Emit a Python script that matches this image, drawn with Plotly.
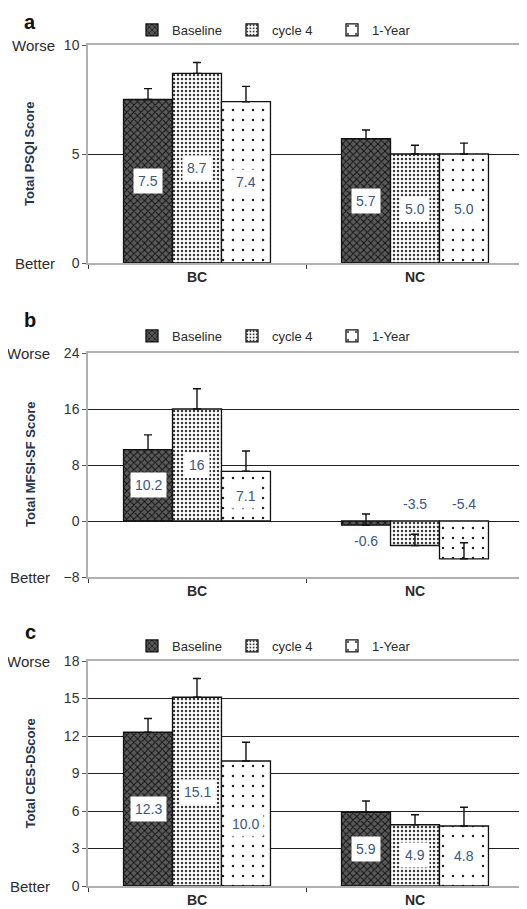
import plotly.graph_objects as go

# ---------------- data ----------------
categories = ["BC", "NC"]
series_names = ["Baseline", "cycle 4", "1-Year"]

psqi_baseline = [7.5, 5.7]
psqi_cycle4 = [8.7, 5.0]
psqi_1year = [7.4, 5.0]
psqi_err_baseline = [0.5, 0.4]
psqi_err_cycle4 = [0.5, 0.4]
psqi_err_1year = [0.7, 0.5]

mfsi_baseline = [10.2, -0.6]
mfsi_cycle4 = [16.0, -3.5]
mfsi_1year = [7.1, -5.4]
mfsi_err_baseline = [2.1, 1.6]
mfsi_err_cycle4 = [2.9, 1.6]
mfsi_err_1year = [2.9, 2.3]

cesd_baseline = [12.3, 5.9]
cesd_cycle4 = [15.1, 4.9]
cesd_1year = [10.0, 4.8]
cesd_err_baseline = [1.1, 0.9]
cesd_err_cycle4 = [1.5, 0.8]
cesd_err_1year = [1.5, 1.5]

psqi_ticks = [0, 5, 10]
mfsi_ticks = [-8, 0, 8, 16, 24]
cesd_ticks = [0, 3, 6, 9, 12, 15, 18]

panel_letters = ["a", "b", "c"]
panel_titles = ["Total PSQI Score", "Total MFSI-SF Score", "Total CES-DScore"]

# ---------------- layout constants ----------------
PAGE_W, PAGE_H = 527, 909
OFF = 8  # default page body margin
W, H = PAGE_W - OFF, PAGE_H - OFF


def px_x(px):
    return (px - OFF) / W


def px_y(py):
    return 1 - (py - OFF) / H


BARGAP = 0.326
panels = [
    dict(values=[psqi_baseline, psqi_cycle4, psqi_1year],
         errs=[psqi_err_baseline, psqi_err_cycle4, psqi_err_1year],
         ticks=psqi_ticks, fmt="{:.1f}", top=45, bottom=263, legend_y=30, letter_y=22, lab_right=57),
    dict(values=[mfsi_baseline, mfsi_cycle4, mfsi_1year],
         errs=[mfsi_err_baseline, mfsi_err_cycle4, mfsi_err_1year],
         ticks=mfsi_ticks, fmt="{:g}", top=353, bottom=577, legend_y=336, letter_y=320, lab_right=52),
    dict(values=[cesd_baseline, cesd_cycle4, cesd_1year],
         errs=[cesd_err_baseline, cesd_err_cycle4, cesd_err_1year],
         ticks=cesd_ticks, fmt="{:.1f}", top=661, bottom=886, legend_y=646, letter_y=632, lab_right=52),
]

styles = [
    dict(shape="x", bgcolor="#5a5a5a", fgcolor="#111111", size=5, solidity=0.35),
    dict(shape=".", bgcolor="#ffffff", fgcolor="#3a3a3a", size=4, solidity=0.3),
    dict(shape=".", bgcolor="#ffffff", fgcolor="#222222", size=10, solidity=0.05),
]

TXT = "#2b2b2b"
VAL = "#3a5784"
FONT = "Liberation Sans, Arial, sans-serif"

fig = go.Figure()
annotations = []
layout = {}

bar_w = (1 - BARGAP) / 3

for p, panel in enumerate(panels):
    sfx = "" if p == 0 else str(p + 1)
    xa, ya = "x" + sfx, "y" + sfx
    leg = "legend" + sfx
    for j, name in enumerate(series_names):
        st = styles[j]
        fig.add_trace(go.Bar(
            x=categories, y=panel["values"][j], name=name,
            xaxis=xa, yaxis=ya, legend=leg,
            marker=dict(color=st["bgcolor"],
                        pattern=dict(shape=st["shape"], bgcolor=st["bgcolor"], fgcolor=st["fgcolor"],
                                     size=st["size"], solidity=st["solidity"], fillmode="replace"),
                        line=dict(color="#111111", width=1.3)),
            error_y=dict(type="data", array=panel["errs"][j], arrayminus=[0] * len(categories),
                         symmetric=False, color="#111111", thickness=1.4, width=4),
            hoverinfo="skip",
        ))
        # value labels
        for i, v in enumerate(panel["values"][j]):
            xpos = i + (j - 1) * bar_w
            txt = panel["fmt"].format(v)
            if v >= 0:
                annotations.append(dict(x=xpos, y=v / 2, xref=xa, yref=ya, text=txt, showarrow=False,
                                        bgcolor="white", borderpad=4,
                                        font=dict(size=14, color=VAL, family=FONT)))
            elif j == 0:
                annotations.append(dict(x=xpos, y=v, xref=xa, yref=ya, text=txt, showarrow=False,
                                        yanchor="top", yshift=-6,
                                        font=dict(size=14, color=VAL, family=FONT)))
            else:
                annotations.append(dict(x=xpos, y=0, xref=xa, yref=ya, text=txt, showarrow=False,
                                        yanchor="bottom", yshift=7,
                                        font=dict(size=14, color=VAL, family=FONT)))

    y0 = px_y(panel["bottom"])
    y1 = px_y(panel["top"])
    ticks = panel["ticks"]
    layout["xaxis" + sfx] = dict(
        domain=[px_x(88), px_x(524)], anchor=ya, type="category", range=[-0.5, 1.5],
        automargin=False,
        showline=True, linecolor="#b0b0b0", linewidth=1.5, mirror=True,
        ticks="outside", tickson="boundaries", ticklen=4, tickcolor="#333333",
        tickfont=dict(size=14, color=TXT, family=FONT, weight="bold"),
        showgrid=False, zeroline=False,
    )
    layout["yaxis" + sfx] = dict(
        domain=[y0, y1], anchor=xa, range=[ticks[0], ticks[-1]],
        automargin=False,
        tickvals=ticks, ticks="outside", ticklen=4, tickcolor="#555555",
        showline=True, linecolor="#b0b0b0", linewidth=1.5,
        showgrid=True, gridcolor="#222222", gridwidth=1,
        zeroline=True, zerolinecolor="#222222", zerolinewidth=1,
        tickfont=dict(size=14, color="#333333", family=FONT),
    )
    layout[leg] = dict(
        orientation="h", x=px_x(132), xanchor="left", y=px_y(panel["legend_y"]), yanchor="middle",
        font=dict(size=13, color=TXT, family=FONT), bgcolor="rgba(0,0,0,0)",
        entrywidth=55, itemwidth=30, traceorder="normal",
    )
    # Worse / Better
    annotations.append(dict(x=px_x(panel["lab_right"]), xref="paper", xanchor="right",
                            y=ticks[-1], yref=ya, text="Worse", showarrow=False,
                            font=dict(size=15, color=TXT, family=FONT)))
    annotations.append(dict(x=px_x(panel["lab_right"]), xref="paper", xanchor="right",
                            y=ticks[0], yref=ya, text="Better", showarrow=False,
                            font=dict(size=15, color=TXT, family=FONT)))
    # axis title
    annotations.append(dict(x=px_x(30), xref="paper", xanchor="center",
                            y=(y0 + y1) / 2, yref="paper", yanchor="middle",
                            text=panel_titles[p], textangle=-90, showarrow=False,
                            font=dict(size=13, color="#243650", family=FONT, weight="bold")))
    # panel letter
    annotations.append(dict(x=px_x(30), xref="paper", xanchor="center",
                            y=px_y(panel["letter_y"]), yref="paper", yanchor="middle",
                            text=panel_letters[p], showarrow=False,
                            font=dict(size=20, color="#111111", family=FONT, weight="bold")))

fig.update_layout(
    width=W, height=H, autosize=False,
    margin=dict(l=0, r=0, t=0, b=0, autoexpand=False),
    paper_bgcolor="white", plot_bgcolor="white",
    barmode="group", bargap=BARGAP, bargroupgap=0,
    annotations=annotations,
    showlegend=True,
    **layout,
)

fig.write_html("out.html")
